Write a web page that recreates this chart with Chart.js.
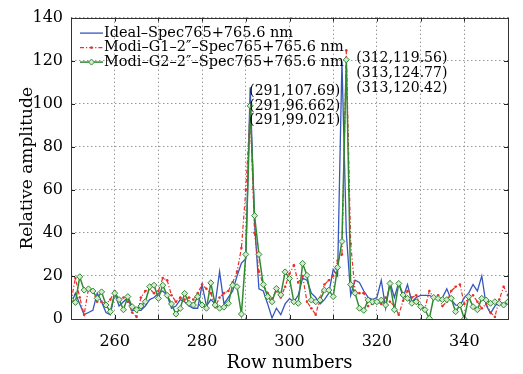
<!DOCTYPE html>
<html><head><meta charset="utf-8">
<script src="https://cdn.jsdelivr.net/npm/chart.js@4/dist/chart.umd.min.js"></script>
<style>html,body{margin:0;padding:0;background:#fff}#wrap{width:523px;height:374px}</style>
</head><body><div id="wrap"><canvas id="c" width="523" height="374"></canvas></div>
<script>
const rows = [250,251,252,253,254,255,256,257,258,259,260,261,262,263,264,265,266,267,268,269,
270,271,272,273,274,275,276,277,278,279,280,281,282,283,284,285,286,287,288,289,
290,291,292,293,294,295,296,297,298,299,300,301,302,303,304,305,306,307,308,309,
310,311,312,313,314,315,316,317,318,319,320,321,322,323,324,325,326,327,328,329,
330,331,332,333,334,335,336,337,338,339,340,341,342,343,344,345,346,347,348,349,350];

const ideal = [7,12,7,2,3,4,12,8,3,2,12,6,8,10,4,4,4,6,9,10,
12,13,11,5,6,9,8,6,5,5,16,6,9,7,22,7,10,13,20,26,
28,107.69,45,14,13,7,0.5,5,2,7,9.5,8,11,19,18,12,10,7,9,12,
23,20,119.56,40,11,18,17,13,10,9,10,18,5,17,10,17,10,16,8,10,
11,11,11,10,9,10,14,9,6.5,6,10,12,16,13,20,6.5,2.6,6,8,7,7];

const g1 = [8,19,10,2,14,13,8,8,7,9,13,9,10,8,3,1,10,13,14,12,
13,19,18,11,8,10,9,10,9,12,16,14,12,5.5,10,12,13,17,22,33,
60,96.662,40,22,16,12,9.5,13,10,15,21,25,17,20,8,5,2,10,16,18,
20,27,30,124.77,35,13,12,12,6,7,8,7,10,8,6,2,8.5,13,10,11,
6,5,13,10,11,6,8,13,15,16,7,10,11,8,5,7,3,1,9,15,11];

const g2 = [9,7.7,19.6,13.4,14,13,9.6,12.6,6.5,3.4,12,9,4.3,10.4,5.7,4.3,6,8,15,15.7,
9.6,15.7,11,7,2.3,4.9,11.9,7.3,6.5,10.4,6.5,5,16.8,6.5,5,5.5,7.3,15.7,15,2.3,
30,99.021,48,30,16,10.4,8,14.2,11.2,21.9,18.8,8,7.3,25.8,20.3,8.8,8,8.8,13.4,13.4,
10.4,24,36,120.42,16,12,5,4,8.8,8,8,8.8,6.5,16.5,4.3,16.5,11.2,9.6,7.3,8,
5.7,4.3,0.3,10,9.5,9,9,9.6,3.4,6.5,0,10.4,5.7,4.3,9.6,8.8,7.3,8,7.3,6.5,8];

const seriesNames = ['Ideal\u2013Spec765+765.6 nm', 'Modi\u2013G1\u20132\u2033\u2013Spec765+765.6 nm', 'Modi\u2013G2\u20132\u2033\u2013Spec765+765.6 nm'];
const leftNotes = ['(291,107.69)', '(291,96.662)', '(291,99.021)'];
const rightNotes = ['(312,119.56)', '(313,124.77)', '(313,120.42)'];
const xTicks = [260, 280, 300, 320, 340];

const BLUE = '#3456be', RED = '#e8302c', GREEN = '#2f8a30';
const SERIF = '"DejaVu Serif", serif';

const toPts = arr => arr.map((v, i) => ({x: rows[i], y: v}));

const chromePlugin = {
  id: 'chrome',
  afterDatasetsDraw(chart) {
    const {ctx, chartArea: a, scales: {x, y}} = chart;
    ctx.save();
    ctx.strokeStyle = '#222'; ctx.lineWidth = 1;
    ctx.beginPath();
    x.ticks.forEach(t => {
      const px = Math.round(x.getPixelForValue(t.value)) + 0.5;
      ctx.moveTo(px, a.bottom); ctx.lineTo(px, a.bottom - 4);
      ctx.moveTo(px, a.top); ctx.lineTo(px, a.top + 4);
    });
    y.ticks.forEach(t => {
      const py = Math.round(y.getPixelForValue(t.value)) + 0.5;
      ctx.moveTo(a.left, py); ctx.lineTo(a.left + 4, py);
      ctx.moveTo(a.right, py); ctx.lineTo(a.right - 4, py);
    });
    ctx.stroke();
    ctx.strokeStyle = '#333';
    ctx.strokeRect(Math.round(a.left) + 0.5, Math.round(a.top) + 0.5, Math.round(a.right - a.left), Math.round(a.bottom - a.top));

    ctx.font = '14.5px ' + SERIF;
    ctx.textBaseline = 'middle'; ctx.textAlign = 'left'; ctx.fillStyle = '#000';
    const lx0 = a.left + 9, lx1 = a.left + 32, ly0 = a.top + 15.5, dy = 14.5;
    const ds = chart.data.datasets;
    ds.forEach((d, i) => {
      const yy = ly0 + i * dy;
      ctx.save();
      ctx.strokeStyle = d.borderColor; ctx.lineWidth = d.borderWidth;
      ctx.setLineDash(d.borderDash || []);
      ctx.beginPath(); ctx.moveTo(lx0, yy); ctx.lineTo(lx1, yy); ctx.stroke();
      ctx.setLineDash([]);
      const mx = (lx0 + lx1) / 2;
      if (d.pointStyle === 'rectRot') {
        const r = d.pointRadius;
        ctx.fillStyle = d.pointBackgroundColor; ctx.strokeStyle = d.pointBorderColor; ctx.lineWidth = 1;
        ctx.beginPath(); ctx.moveTo(mx, yy - r); ctx.lineTo(mx + r, yy); ctx.lineTo(mx, yy + r); ctx.lineTo(mx - r, yy); ctx.closePath();
        ctx.fill(); ctx.stroke();
      } else if (d.pointRadius > 0) {
        ctx.fillStyle = d.pointBackgroundColor;
        ctx.beginPath(); ctx.arc(mx, yy, d.pointRadius, 0, Math.PI * 2); ctx.fill();
      }
      ctx.restore();
      ctx.fillStyle = '#000';
      ctx.fillText(seriesNames[i], lx1 + 1, yy);
    });

    ctx.font = '14px ' + SERIF;
    const xl = x.getPixelForValue(291) - 1;
    leftNotes.forEach((s, i) => ctx.fillText(s, xl, a.top + 74 + i * 14.5));
    const xr = x.getPixelForValue(313) + 10;
    rightNotes.forEach((s, i) => ctx.fillText(s, xr, a.top + 40.5 + i * 15));
    ctx.restore();
  }
};

new Chart(document.getElementById('c'), {
  type: 'line',
  data: {
    datasets: [
      {label: seriesNames[0], data: toPts(ideal), borderColor: BLUE, borderWidth: 1.3, pointRadius: 0, order: 2},
      {label: seriesNames[1], data: toPts(g1), borderColor: RED, borderWidth: 1.2, borderDash: [4, 2, 1.2, 2],
       pointRadius: 1.3, pointStyle: 'circle', pointBackgroundColor: RED, pointBorderColor: RED, pointBorderWidth: 0, order: 1},
      {label: seriesNames[2], data: toPts(g2), borderColor: GREEN, borderWidth: 1.5,
       pointRadius: 3, pointStyle: 'rectRot', pointBackgroundColor: '#d4ead0', pointBorderColor: GREEN, pointBorderWidth: 1, order: 0}
    ]
  },
  options: {
    responsive: false, animation: false, devicePixelRatio: 1,
    layout: {padding: {top: 16, right: 15, left: 0, bottom: 0}},
    plugins: {legend: {display: false}, tooltip: {enabled: false}},
    elements: {line: {tension: 0}},
    scales: {
      x: {
        type: 'linear', min: 250, max: 350,
        afterBuildTicks: s => { s.ticks = [250,260,270,280,290,300,310,320,330,340,350].map(v => ({value: v})); },
        ticks: {autoSkip: false, maxRotation: 0, padding: 13, color: '#000', font: {family: SERIF, size: 16},
                callback: v => xTicks.includes(v) ? String(v) : ''},
        grid: {color: '#9a9a9a', lineWidth: 1, drawTicks: false},
        border: {display: false, dash: [1.5, 2.5]},
        title: {display: true, text: 'Row numbers', color: '#000', font: {family: SERIF, size: 18}, padding: {top: 0, bottom: 0}},
        afterFit: s => { s.height = 55; }
      },
      y: {
        min: 0, max: 140,
        ticks: {stepSize: 20, padding: 8, color: '#000', font: {family: SERIF, size: 16}},
        grid: {color: '#9a9a9a', lineWidth: 1, drawTicks: false},
        border: {display: false, dash: [1.5, 2.5]},
        title: {display: true, text: 'Relative amplitude', color: '#000', font: {family: SERIF, size: 17}, padding: {top: 17, bottom: 0}},
        afterFit: s => { s.width = 71; }
      }
    }
  },
  plugins: [chromePlugin]
});
</script>
</body></html>
